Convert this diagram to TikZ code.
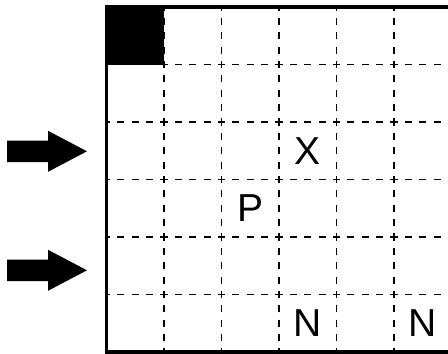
\documentclass[tikz,border=0pt]{standalone}
\usepackage{fontspec}
\setmainfont{Liberation Sans}
\begin{document}
\begin{tikzpicture}[x=1pt,y=-1pt,
  gridline/.style={line width=1.1pt,dash pattern=on 7.1875pt off 7.1875pt,dash phase=3.59pt},
  border/.style={line width=3.8pt},
  letter/.style={inner sep=0pt,font=\fontsize{39}{39}\selectfont},
  blockarrow/.style={fill=black,draw=none}]
\useasboundingbox (0,0) rectangle (448,354);
\clip (0,0) rectangle (448,354);
% black cell
\fill (106.5,7) rectangle (164,64.5);
% dashed grid
\foreach \i in {1,...,5} {
  \draw[gridline] (106.5+57.5*\i,7) -- (106.5+57.5*\i,352);
  \draw[gridline] (106.5,7+57.5*\i) -- (451.5,7+57.5*\i);
}
% outer border
\draw[border] (106.5,7) rectangle (451.5,352);
% letters
\node[letter] (x) at (307.75,150.75) {X};
\node[letter] (p) at (250.25,208.25) {P};
\node[letter] (n1) at (307.75,323.25) {N};
\node[letter] (n2) at (422.75,323.25) {N};
% arrows
\foreach \c in {151.3,270.3} {
  \fill[blockarrow] (7,\c-10.8) -- (48,\c-10.8) -- (48,\c-20.5) -- (87,\c) -- (48,\c+20.5) -- (48,\c+10.8) -- (7,\c+10.8) -- cycle;
}
\end{tikzpicture}
\end{document}
